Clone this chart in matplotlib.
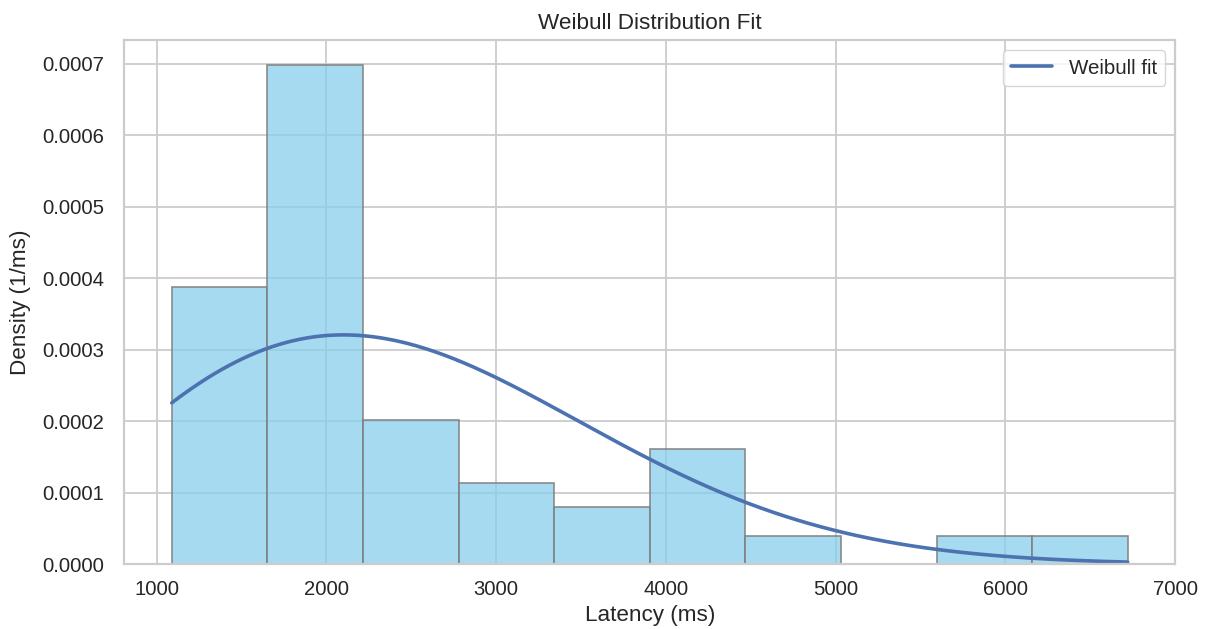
import numpy as np
import matplotlib
matplotlib.use("Agg")
import matplotlib.pyplot as plt
from matplotlib.colors import to_rgba
import seaborn as sns

# Histogram of request latency (density per ms) and a fitted Weibull curve
bin_edges = [1088.4, 1651.7, 2214.9, 2778.2, 3341.4, 3904.7,
             4468.0, 5031.2, 5594.5, 6157.7, 6721.0]
bin_density = [0.000388, 0.000698, 0.000201, 0.000113, 0.0000795,
               0.000161, 0.0000397, 0.0, 0.0000397, 0.0000397]

# Fitted Weibull parameters (shape, scale in ms, location in ms)
weibull_shape = 2.15
weibull_scale = 2810.0
weibull_loc = 0.0

x_ticks = [1000, 2000, 3000, 4000, 5000, 6000, 7000]
y_ticks = [0.0, 0.0001, 0.0002, 0.0003, 0.0004, 0.0005, 0.0006, 0.0007]

sns.set_theme(style="whitegrid")
plt.rcParams["font.family"] = ["Liberation Sans", "DejaVu Sans"]
plt.rcParams.update({
    "axes.edgecolor": "#cccccc",
    "axes.linewidth": 1.6,
    "grid.color": "#cccccc",
    "grid.linewidth": 1.3,
    "xtick.major.size": 0,
    "ytick.major.size": 0,
    "xtick.major.pad": 11,
    "ytick.major.pad": 14,
    "xtick.labelsize": 14.6,
    "ytick.labelsize": 14.6,
    "axes.labelsize": 16.2,
    "axes.titlesize": 16.2,
    "legend.fontsize": 14.8,
    "text.color": "#262626",
    "axes.labelcolor": "#262626",
    "xtick.color": "#262626",
    "ytick.color": "#262626",
})

fig = plt.figure(figsize=(12.07, 6.29), dpi=100)
ax = fig.add_axes([0.1027, 0.1029, 0.9739 - 0.1027, 0.9364 - 0.1029])

edges = np.asarray(bin_edges)
ax.bar(edges[:-1], bin_density, width=np.diff(edges), align="edge",
       facecolor=to_rgba("skyblue", 0.75), edgecolor=to_rgba("gray", 0.9),
       linewidth=1.2)

xs = np.linspace(edges[0], edges[-1], 400)
z = (xs - weibull_loc) / weibull_scale
pdf = (weibull_shape / weibull_scale) * z ** (weibull_shape - 1) * np.exp(-z ** weibull_shape)
ax.plot(xs, pdf, color="#4C72B0", linewidth=2.6, label="Weibull fit")

ax.set_xticks(x_ticks)
ax.set_yticks(y_ticks)
ax.set_yticklabels([f"{v:.4f}" for v in y_ticks])
ax.set_xlabel("Latency (ms)", labelpad=5)
ax.set_ylabel("Density (1/ms)", labelpad=8)
ax.set_title("Weibull Distribution Fit", pad=7.7)
ax.legend(loc="upper right", frameon=True)

fig.savefig("out.png", dpi=100)
